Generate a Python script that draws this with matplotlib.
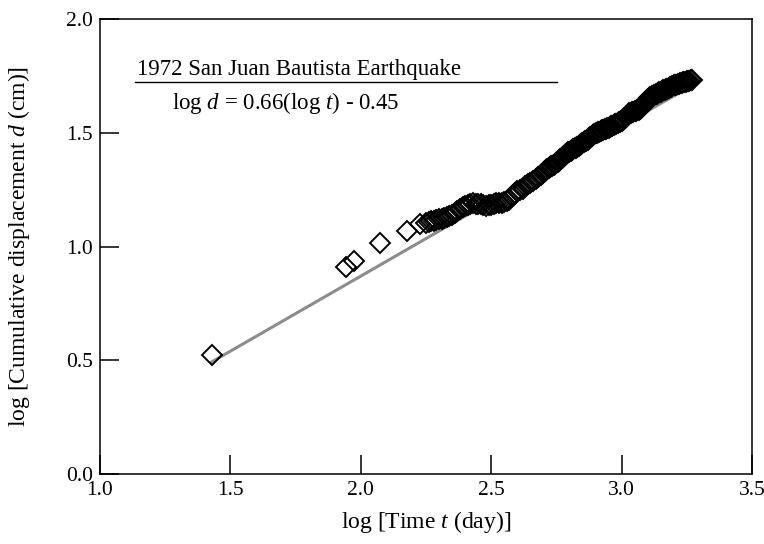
import numpy as np
import matplotlib
matplotlib.use("Agg")
import matplotlib.pyplot as plt

plt.rcParams['font.family'] = ['Liberation Serif', 'DejaVu Serif']
plt.rcParams['mathtext.fontset'] = 'custom'
plt.rcParams['mathtext.rm'] = 'Liberation Serif'
plt.rcParams['mathtext.it'] = 'Liberation Serif:italic'

# log time (day) and log cumulative displacement (cm)
log_t = [1.428, 1.945, 1.975, 2.074, 2.176, 2.227,
         2.25, 2.26, 2.27, 2.28, 2.29, 2.30, 2.31, 2.32, 2.33, 2.34,
         2.35, 2.36, 2.37, 2.38, 2.39, 2.40, 2.41, 2.42, 2.43, 2.44,
         2.45, 2.46, 2.47, 2.48, 2.49, 2.50, 2.51, 2.52, 2.53, 2.54,
         2.55, 2.56, 2.57, 2.58, 2.59, 2.60, 2.61, 2.62, 2.63, 2.64,
         2.65, 2.66, 2.67, 2.68, 2.69,
         2.700, 2.705, 2.710, 2.715, 2.720, 2.725, 2.730, 2.735, 2.740, 2.745,
         2.750, 2.755, 2.760, 2.765, 2.770, 2.775, 2.780, 2.785, 2.790, 2.795,
         2.800, 2.805, 2.810, 2.815, 2.820, 2.825, 2.830, 2.835, 2.840, 2.845,
         2.850, 2.855, 2.860, 2.865, 2.870, 2.875, 2.880, 2.885, 2.890, 2.895,
         2.900, 2.905, 2.910, 2.915, 2.920, 2.925, 2.930, 2.935, 2.940, 2.945,
         2.950, 2.955, 2.960, 2.965, 2.970, 2.975, 2.980, 2.985, 2.990, 2.995,
         3.000, 3.005, 3.010, 3.015, 3.020, 3.025, 3.030, 3.035, 3.040, 3.045,
         3.050, 3.055, 3.060, 3.065, 3.070, 3.075, 3.080, 3.085, 3.090, 3.095,
         3.100, 3.105, 3.110, 3.115, 3.120, 3.125, 3.130, 3.135, 3.140, 3.145,
         3.150, 3.155, 3.160, 3.165, 3.170, 3.175, 3.180, 3.185, 3.190, 3.195,
         3.200, 3.205, 3.210, 3.215, 3.220, 3.225, 3.230, 3.235, 3.240, 3.245,
         3.250, 3.255, 3.260, 3.265, 3.270]
log_d = [0.523, 0.912, 0.935, 1.014, 1.070, 1.100,
         1.104, 1.106, 1.110, 1.113, 1.116, 1.119, 1.121, 1.124, 1.129, 1.135,
         1.140, 1.148, 1.156, 1.165, 1.173, 1.179, 1.184, 1.188, 1.190, 1.187,
         1.185, 1.185, 1.182, 1.180, 1.181, 1.184, 1.187, 1.190, 1.190, 1.192,
         1.195, 1.198, 1.204, 1.220, 1.235, 1.243, 1.248, 1.255, 1.265, 1.274,
         1.281, 1.290, 1.297, 1.306, 1.315,
         1.325, 1.330, 1.335, 1.340, 1.345, 1.349, 1.352, 1.356, 1.360, 1.364,
         1.368, 1.373, 1.378, 1.383, 1.388, 1.394, 1.400, 1.405, 1.410, 1.414,
         1.417, 1.421, 1.424, 1.428, 1.431, 1.435, 1.438, 1.442, 1.446, 1.450,
         1.454, 1.458, 1.462, 1.466, 1.470, 1.475, 1.480, 1.485, 1.490, 1.494,
         1.497, 1.500, 1.502, 1.505, 1.508, 1.511, 1.513, 1.516, 1.518, 1.521,
         1.523, 1.525, 1.528, 1.531, 1.534, 1.537, 1.540, 1.543, 1.546, 1.549,
         1.553, 1.557, 1.562, 1.568, 1.575, 1.580, 1.585, 1.588, 1.590, 1.592,
         1.594, 1.596, 1.598, 1.601, 1.604, 1.609, 1.615, 1.622, 1.630, 1.638,
         1.645, 1.651, 1.656, 1.660, 1.663, 1.666, 1.669, 1.672, 1.675, 1.678,
         1.680, 1.683, 1.686, 1.689, 1.691, 1.694, 1.697, 1.700, 1.702, 1.705,
         1.708, 1.710, 1.712, 1.714, 1.716, 1.718, 1.720, 1.722, 1.723, 1.725,
         1.727, 1.728, 1.729, 1.730, 1.731]

# regression: log d = 0.66(log t) - 0.45
slope, intercept = 0.66, -0.45
fit_x = np.array([min(log_t), max(log_t)])
fit_y = slope * fit_x + intercept

fig = plt.figure(figsize=[7.64, 5.44], dpi=100)
ax = fig.add_axes([0.1309, 0.1287, 0.8534, 0.8363])

ax.plot(fit_x, fit_y, color='#8c8c8c', lw=2.2, zorder=1)
ax.plot(log_t, log_d, ls='none', marker='D', ms=10, mfc='none', mec='black', mew=1.4, zorder=2)

ax.set_xlim(1.0, 3.5)
ax.set_ylim(0.0, 2.0)
ax.set_xticks([1.0, 1.5, 2.0, 2.5, 3.0, 3.5])
ax.set_yticks([0.0, 0.5, 1.0, 1.5, 2.0])
ax.xaxis.set_major_formatter(matplotlib.ticker.FormatStrFormatter('%.1f'))
ax.yaxis.set_major_formatter(matplotlib.ticker.FormatStrFormatter('%.1f'))
ax.tick_params(direction='in', length=14, width=1.1, labelsize=15.5, top=False, right=False, pad=5)
for s in ax.spines.values():
    s.set_linewidth(1.1)

ax.set_xlabel("log [Time $t$ (day)]", fontsize=17)
ax.set_ylabel("log [Cumulative displacement $d$ (cm)]", fontsize=17)
ax.xaxis.set_label_coords(0.5, -0.078)
ax.yaxis.set_label_coords(-0.104, 0.5)

ax.text(1.142, 1.754, "1972 San Juan Bautista Earthquake", fontsize=16.5, ha='left', va='baseline')
ax.plot([1.134, 2.752], [1.723, 1.723], color='black', lw=1.0)
ax.text(1.276, 1.63, "log $d$ = 0.66(log $t$) - 0.45", fontsize=16.5, ha='left', va='center')

fig.savefig("out.png", dpi=100)
